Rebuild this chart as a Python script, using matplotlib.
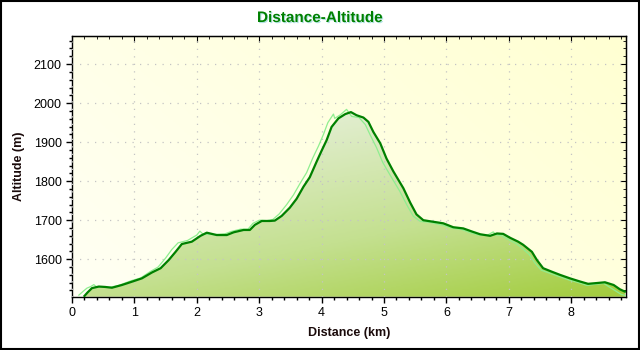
import numpy as np
import matplotlib
matplotlib.use("Agg")
import matplotlib.pyplot as plt
from matplotlib.patches import Polygon, Rectangle
from matplotlib.colors import LinearSegmentedColormap
from matplotlib.ticker import MultipleLocator
import matplotlib.patheffects as pe

plt.rcParams['font.family'] = ['Liberation Sans', 'DejaVu Sans']

# Smoothed track profile (km, m)
distance_km = [0.20, 0.25, 0.32, 0.43, 0.53, 0.64, 0.80, 0.99, 1.12, 1.28, 1.42, 1.55,
               1.66, 1.76, 1.92, 2.06, 2.16, 2.32, 2.48, 2.59, 2.75, 2.85, 2.93, 3.04,
               3.17, 3.25, 3.36, 3.49, 3.60, 3.71, 3.81, 3.92, 4.00, 4.08, 4.16, 4.27,
               4.38, 4.47, 4.56, 4.67, 4.75, 4.83, 4.94, 5.04, 5.15, 5.31, 5.42, 5.52,
               5.63, 5.79, 5.95, 6.11, 6.27, 6.41, 6.54, 6.70, 6.81, 6.91, 7.02, 7.15,
               7.23, 7.37, 7.45, 7.55, 7.69, 7.82, 7.98, 8.14, 8.27, 8.41, 8.54, 8.68,
               8.78, 8.86]
altitude_m = [1506, 1515, 1526, 1530, 1529, 1527, 1534, 1544, 1551, 1566, 1577, 1598,
              1619, 1639, 1645, 1660, 1668, 1662, 1662, 1669, 1675, 1675, 1688, 1698,
              1698, 1699, 1711, 1732, 1755, 1786, 1810, 1850, 1878, 1905, 1939, 1961,
              1972, 1977, 1969, 1963, 1952, 1926, 1897, 1858, 1825, 1782, 1745, 1715,
              1700, 1696, 1692, 1682, 1679, 1671, 1664, 1660, 1666, 1665, 1655, 1645,
              1637, 1619, 1598, 1577, 1568, 1560, 1551, 1543, 1537, 1539, 1541, 1534,
              1523, 1517]

# Raw GPS profile (km, m)
raw_distance_km = [0.11, 0.18, 0.24, 0.30, 0.35, 0.40, 0.48, 0.60, 0.75, 0.95, 1.10, 1.25,
                   1.38, 1.50, 1.60, 1.70, 1.85, 2.00, 2.05, 2.10, 2.28, 2.45, 2.55, 2.70,
                   2.82, 2.90, 3.00, 3.13, 3.22, 3.32, 3.44, 3.55, 3.65, 3.76, 3.86, 3.95,
                   4.03, 4.10, 4.19, 4.21, 4.30, 4.40, 4.48, 4.60, 4.70, 4.78, 4.88, 4.98,
                   5.10, 5.25, 5.37, 5.47, 5.58, 5.75, 5.92, 6.08, 6.25, 6.38, 6.52, 6.66,
                   6.75, 6.80, 6.88, 7.00, 7.12, 7.20, 7.33, 7.42, 7.52, 7.66, 7.80, 7.96,
                   8.12, 8.25, 8.40, 8.52, 8.62, 8.72, 8.80, 8.87]
raw_altitude_m = [1508, 1518, 1526, 1530, 1535, 1528, 1530, 1528, 1533, 1545, 1552, 1568,
                  1580, 1603, 1625, 1642, 1648, 1662, 1672, 1664, 1663, 1665, 1671, 1677,
                  1677, 1692, 1700, 1699, 1702, 1716, 1740, 1765, 1793, 1822, 1860, 1890,
                  1920, 1950, 1972, 1961, 1970, 1984, 1966, 1963, 1945, 1918, 1886, 1848,
                  1815, 1775, 1738, 1710, 1697, 1694, 1688, 1680, 1676, 1668, 1662, 1662,
                  1670, 1662, 1661, 1650, 1640, 1630, 1612, 1590, 1572, 1564, 1556, 1547,
                  1540, 1533, 1536, 1538, 1528, 1518, 1510, 1507]

x_ticks = [0, 1, 2, 3, 4, 5, 6, 7, 8]
y_ticks = [1600, 1700, 1800, 1900, 2000, 2100]

XMIN, XMAX = 0, 8.87
YMIN, YMAX = 1504, 2172

fig = plt.figure(figsize=(6.4, 3.5), dpi=100)
fig.patch.set_facecolor('white')
ax = fig.add_axes([72 / 640, 1 - 296.7 / 350, (625.5 - 72) / 640, (296.7 - 36) / 350])

# Background: soft diagonal yellow gradient
gx, gy = np.meshgrid(np.linspace(0, 1, 200), np.linspace(0, 1, 200))
bg_t = np.clip(0.65 * gx + 0.35 * gy, 0, 1)
bg_cmap = LinearSegmentedColormap.from_list('bg', ['#fffff4', '#ffffd2'])
ax.imshow(bg_t, cmap=bg_cmap, extent=[XMIN, XMAX, YMIN, YMAX], origin='lower',
          aspect='auto', zorder=0, interpolation='bilinear')

# Area under the profile with a green gradient
fill_t = np.clip(0.7 * (1 - gy) + 0.3 * gx, 0, 1)
fill_cmap = LinearSegmentedColormap.from_list(
    'fill', [(0.0, '#eef5e4'), (0.35, '#e2eed0'), (0.7, '#c4e090'), (1.0, '#a2cc3c')])
verts = [(distance_km[0], YMIN)] + list(zip(distance_km, altitude_m)) + [(distance_km[-1], YMIN)]
area = Polygon(verts, closed=True, facecolor='none', edgecolor='none', zorder=1)
ax.add_patch(area)
im = ax.imshow(fill_t, cmap=fill_cmap, extent=[XMIN, XMAX, YMIN, YMAX], origin='lower',
               aspect='auto', zorder=1, interpolation='bilinear')
im.set_clip_path(area)

ax.plot(raw_distance_km, raw_altitude_m, color='#8fee8f', lw=0.9, zorder=3)
ax.plot(distance_km, altitude_m, color='#008000', lw=1.6, zorder=4)

ax.set_xlim(XMIN, XMAX)
ax.set_ylim(YMIN, YMAX)
ax.set_xticks(x_ticks)
ax.set_yticks(y_ticks)
ax.xaxis.set_minor_locator(MultipleLocator(0.2))
ax.yaxis.set_minor_locator(MultipleLocator(20))
ax.grid(True, which='major', linestyle=(0, (1, 5)), color='#c4c4c4', linewidth=0.9, zorder=2)
ax.set_axisbelow(False)
ax.tick_params(which='major', direction='out', length=4, width=1, labelsize=9, colors='black')
ax.tick_params(which='minor', direction='out', length=2.5, width=1)
for s in ax.spines.values():
    s.set_linewidth(1)
    s.set_color('black')

# Inward ticks along the top and right edges
top = ax.secondary_xaxis('top')
top.set_xticks(x_ticks)
top.xaxis.set_minor_locator(MultipleLocator(0.2))
top.tick_params(which='major', direction='in', length=4, labeltop=False)
top.tick_params(which='minor', direction='in', length=2.5)
right = ax.secondary_yaxis('right')
right.set_yticks(y_ticks)
right.yaxis.set_minor_locator(MultipleLocator(20))
right.tick_params(which='major', direction='in', length=4, labelright=False)
right.tick_params(which='minor', direction='in', length=2.5)

ax.set_xlabel('Distance (km)', fontsize=9, fontweight='bold', color='#1a0a0a', labelpad=6)
ax.set_ylabel('Altitude (m)', fontsize=9, fontweight='bold', color='#1a0a0a', labelpad=6)

fig.text(0.5, 1 - 18 / 350, 'Distance-Altitude', ha='center', va='center',
         fontsize=11, fontweight='bold', color='#008000',
         path_effects=[pe.withSimplePatchShadow(offset=(0.8, -0.8), shadow_rgbFace='#7fd0d0', alpha=0.6)])

fig.add_artist(Rectangle((0.001, 0.002), 0.997, 0.995, transform=fig.transFigure,
                         fill=False, edgecolor='black', linewidth=1.5))

fig.savefig('out.png', dpi=100)
